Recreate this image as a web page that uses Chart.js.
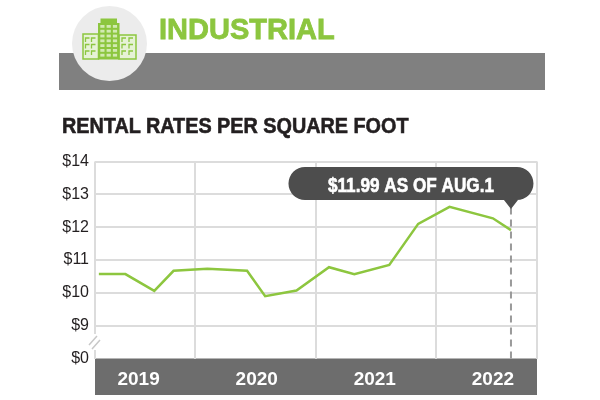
<!DOCTYPE html>
<html>
<head>
<meta charset="utf-8">
<script src="https://cdn.jsdelivr.net/npm/chart.js@4.4.0/dist/chart.umd.min.js"></script>
<style>
  body { margin: 0; width: 600px; height: 400px; background: #fff; position: relative; overflow: hidden; }
  #chart { position: absolute; left: 0; top: 0; }
  .band { position: absolute; left: 59px; top: 53px; width: 486px; height: 37px; background: #808080; }
  .badge { position: absolute; left: 72px; top: 6px; width: 75px; height: 75px; border-radius: 50%; background: #ececec; }
  .icon { position: absolute; left: 0; top: 0; }
  .title { position: absolute; left: 159px; top: 15px; font: bold 29px/29px 'Liberation Sans', Arial, sans-serif; color: #8cc63f; white-space: nowrap; -webkit-text-stroke: 0.8px #8cc63f; }
  .subtitle { position: absolute; left: 62px; top: 115px; font: bold 22px/22px 'Liberation Sans', Arial, sans-serif; color: #231f20; white-space: nowrap; transform: scaleX(0.9); transform-origin: left top; -webkit-text-stroke: 0.6px #231f20; }
</style>
</head>
<body>
<canvas id="chart" width="600" height="400"></canvas>
<div class="band"></div>
<div class="badge"></div>
<svg class="icon" width="200" height="100">
  <g stroke="#8cc63f" stroke-width="1.5" fill="#e6f2d6">
    <rect x="83" y="34" width="15.5" height="25"/>
    <rect x="119" y="35" width="17" height="24"/>
  </g>
  <rect x="98" y="23" width="21.5" height="36.5" fill="#8cc63f"/>
  <rect x="100.5" y="18.5" width="16.5" height="5" fill="#8cc63f"/>
  <g fill="#d2eab2" id="towerWin"></g>
  <g stroke="#8cc63f" stroke-width="1.3" fill="none" id="sideWin"></g>
</svg>
<div class="title">INDUSTRIAL</div>
<div class="subtitle">RENTAL RATES PER SQUARE FOOT</div>
<script>
// rent per square foot, x as fractional years
const xDates = [2019.20, 2019.42, 2019.66, 2019.82, 2020.10, 2020.43, 2020.58, 2020.84,
                2021.11, 2021.32, 2021.61, 2021.85, 2022.11, 2022.47, 2022.62];
const rentValues = [10.57, 10.57, 10.06, 10.67, 10.73, 10.67, 9.90, 10.07,
                    10.78, 10.57, 10.85, 12.10, 12.62, 12.27, 11.91];

const yearLabels = ['2019', '2020', '2021', '2022'];
const yearLabelPos = [2019.53, 2020.51, 2021.49, 2022.47];
const yearGrid = [2020, 2021, 2022];

// axis is broken: the bottom slot (8) is shown as $0
const yTickValues = [8, 9, 10, 11, 12, 13, 14];
const yTickLabels = ['$0', '$9', '$10', '$11', '$12', '$13', '$14'];

const calloutLabel = '$11.99 AS OF AUG.1';

const xMin = 2019.168;
const xMax = 2022.836;

const GREEN = '#8dc63f';
const GRID = '#dcdcdc';

// icon windows
(function() {
    const ns = 'http://www.w3.org/2000/svg';
    const tw = document.getElementById('towerWin');
    for (let r = 0; r < 7; r++) {
        for (let c = 0; c < 3; c++) {
            const el = document.createElementNS(ns, 'rect');
            el.setAttribute('x', 100.3 + c * 6.3);
            el.setAttribute('y', 25 + r * 4.8);
            el.setAttribute('width', 4.2);
            el.setAttribute('height', 2.8);
            tw.appendChild(el);
        }
    }
    const sw = document.getElementById('sideWin');
    const cols = [85.5, 91.5, 122, 129];
    for (const x of cols) {
        for (let r = 0; r < 3; r++) {
            const y = 38 + r * 6.5;
            const p = document.createElementNS(ns, 'path');
            p.setAttribute('d', `M${x} ${y + 4} L${x} ${y} L${x + 4} ${y}`);
            sw.appendChild(p);
        }
    }
})();

const overlayPlugin = {
    id: 'overlay',
    beforeDatasetsDraw(chart) {
        const { ctx, chartArea, scales } = chart;
        const px = scales.x.getPixelForValue(xDates[xDates.length - 1]);
        ctx.save();
        ctx.strokeStyle = '#9a9a9a';
        ctx.lineWidth = 2;
        ctx.setLineDash([7, 5]);
        ctx.beginPath();
        ctx.moveTo(px, chartArea.top + 46);
        ctx.lineTo(px, chartArea.bottom);
        ctx.stroke();
        ctx.restore();
    },
    afterDraw(chart) {
        const { ctx, chartArea, scales } = chart;
        const px = scales.x.getPixelForValue(xDates[xDates.length - 1]);

        // callout bubble
        const right = px + 22.5;
        const left = right - 245;
        const top = chartArea.top + 5.5;
        const h = 33;
        const r = h / 2;
        ctx.save();
        ctx.fillStyle = '#4d4d4d';
        ctx.beginPath();
        ctx.moveTo(left + r, top);
        ctx.lineTo(right - r, top);
        ctx.arc(right - r, top + r, r, -Math.PI / 2, Math.PI / 2);
        ctx.lineTo(px + 7, top + h);
        ctx.lineTo(px, top + h + 9);
        ctx.lineTo(px - 7, top + h);
        ctx.lineTo(left + r, top + h);
        ctx.arc(left + r, top + r, r, Math.PI / 2, Math.PI * 1.5);
        ctx.closePath();
        ctx.fill();

        ctx.fillStyle = '#ffffff';
        ctx.strokeStyle = '#ffffff';
        ctx.lineWidth = 0.6;
        ctx.font = "bold 20px 'Liberation Sans', Arial, sans-serif";
        ctx.textAlign = 'center';
        ctx.textBaseline = 'alphabetic';
        ctx.fillText(calloutLabel, (left + right) / 2, top + 25, 166);
        ctx.strokeText(calloutLabel, (left + right) / 2, top + 25, 166);

        // axis break mark
        const ax = chartArea.left;
        ctx.fillStyle = '#ffffff';
        ctx.fillRect(ax - 3, 334, 6, 16);
        ctx.strokeStyle = '#c8c8c8';
        ctx.lineWidth = 1.5;
        ctx.beginPath();
        ctx.moveTo(ax - 6, 345);
        ctx.lineTo(ax + 2, 336);
        ctx.moveTo(ax - 3, 349);
        ctx.lineTo(ax + 5, 340);
        ctx.stroke();
        ctx.restore();
    }
};

const ctx = document.getElementById('chart').getContext('2d');
new Chart(ctx, {
    type: 'line',
    data: {
        datasets: [{
            data: xDates.map((x, i) => ({ x: x, y: rentValues[i] })),
            borderColor: GREEN,
            borderWidth: 2.5,
            pointRadius: 0,
            tension: 0,
            fill: false
        }]
    },
    options: {
        responsive: false,
        animation: false,
        layout: {
            padding: { top: 161.5, left: 0, right: 63, bottom: 5 }
        },
        plugins: {
            legend: { display: false },
            tooltip: { enabled: false }
        },
        scales: {
            x: {
                type: 'linear',
                min: xMin,
                max: xMax,
                backgroundColor: '#6d6d6d',
                border: { display: false },
                afterBuildTicks: scale => {
                    const vals = [xMin, ...yearGrid, ...yearLabelPos, xMax].sort((a, b) => a - b);
                    scale.ticks = vals.map(v => ({ value: v }));
                },
                afterFit: scale => { scale.height = 36.5; },
                grid: {
                    drawTicks: false,
                    lineWidth: 2,
                    color: c => (c.tick && yearLabelPos.includes(c.tick.value)) ? 'rgba(0,0,0,0)' : GRID
                },
                ticks: {
                    autoSkip: false,
                    maxRotation: 0,
                    padding: 10,
                    color: '#ffffff',
                    font: { family: "'Liberation Sans', Arial, sans-serif", size: 19, weight: 'bold' },
                    callback: v => {
                        const i = yearLabelPos.indexOf(v);
                        return i >= 0 ? yearLabels[i] : '';
                    }
                }
            },
            y: {
                min: 8,
                max: 14,
                border: { display: false },
                afterBuildTicks: scale => {
                    scale.ticks = yTickValues.map(v => ({ value: v }));
                },
                afterFit: scale => { scale.width = 95; },
                grid: {
                    drawTicks: false,
                    lineWidth: 2,
                    color: c => (c.tick && c.tick.value === 8) ? 'rgba(0,0,0,0)' : GRID
                },
                ticks: {
                    padding: 6,
                    color: '#231f20',
                    font: { family: "'Liberation Sans', Arial, sans-serif", size: 16 },
                    callback: v => {
                        const i = yTickValues.indexOf(v);
                        return i >= 0 ? yTickLabels[i] : '';
                    }
                }
            }
        }
    },
    plugins: [overlayPlugin]
});
</script>
</body>
</html>
